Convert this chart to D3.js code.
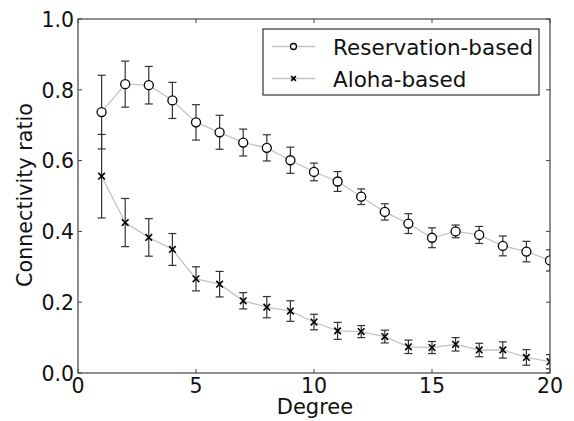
<!DOCTYPE html>
<html>
<head>
<meta charset="utf-8">
<script src="https://cdn.jsdelivr.net/npm/d3@7"></script>
<style>
  body { margin: 0; background: #fff; }
  text { font-family: "DejaVu Sans", sans-serif; fill: #111; }
</style>
</head>
<body>
<script>
const degrees = d3.range(1, 21);
const reservation = [0.737, 0.816, 0.813, 0.770, 0.708, 0.680, 0.651, 0.636, 0.601, 0.568,
                     0.541, 0.498, 0.455, 0.422, 0.382, 0.400, 0.390, 0.359, 0.343, 0.318];
const reservationErr = [0.104, 0.065, 0.053, 0.051, 0.050, 0.048, 0.038, 0.037, 0.037, 0.025,
                        0.028, 0.022, 0.023, 0.028, 0.028, 0.018, 0.024, 0.028, 0.029, 0.030];
const aloha = [0.556, 0.425, 0.383, 0.349, 0.266, 0.251, 0.204, 0.186, 0.175, 0.144,
               0.119, 0.117, 0.103, 0.074, 0.072, 0.081, 0.065, 0.065, 0.044, 0.032];
const alohaErr = [0.118, 0.068, 0.053, 0.045, 0.034, 0.036, 0.023, 0.030, 0.029, 0.022,
                  0.024, 0.017, 0.018, 0.019, 0.017, 0.019, 0.019, 0.023, 0.022, 0.020];
const xTicks = [0, 5, 10, 15, 20];
const yTicks = [0.0, 0.2, 0.4, 0.6, 0.8, 1.0];
const seriesNames = ["Reservation-based", "Aloha-based"];

const w = 574, h = 421;
const pLeft = 78, pRight = 550, pTop = 19, pBottom = 373;

const x = d3.scaleLinear().domain([0, 20]).range([pLeft, pRight]);
const y = d3.scaleLinear().domain([0, 1]).range([pBottom, pTop]);

const svg = d3.select("body").append("svg")
  .attr("width", w).attr("height", h);

svg.append("defs").append("clipPath").attr("id", "plot-clip")
  .append("rect")
  .attr("x", pLeft).attr("y", pTop)
  .attr("width", pRight - pLeft).attr("height", pBottom - pTop);

const plot = svg.append("g").attr("clip-path", "url(#plot-clip)");

const series = [
  { name: seriesNames[0], vals: reservation, errs: reservationErr, marker: "circle" },
  { name: seriesNames[1], vals: aloha, errs: alohaErr, marker: "x" }
];

// error bars
series.forEach(s => {
  const g = plot.append("g").attr("stroke", "#333").attr("stroke-width", 1.2);
  degrees.forEach((d, i) => {
    const lo = y(s.vals[i] - s.errs[i]), hi = y(s.vals[i] + s.errs[i]);
    g.append("line").attr("x1", x(d)).attr("x2", x(d)).attr("y1", lo).attr("y2", hi);
    g.append("line").attr("x1", x(d) - 4).attr("x2", x(d) + 4).attr("y1", lo).attr("y2", lo);
    g.append("line").attr("x1", x(d) - 4).attr("x2", x(d) + 4).attr("y1", hi).attr("y2", hi);
  });
});

const line = d3.line().x((d, i) => x(degrees[i])).y(d => y(d));

series.forEach(s => {
  plot.append("path")
    .datum(s.vals)
    .attr("d", line)
    .attr("fill", "none")
    .attr("stroke", "#c4c4c4")
    .attr("stroke-width", 1.3);
});

function drawMarker(g, type, cx, cy, size) {
  if (type === "circle") {
    g.append("circle").attr("cx", cx).attr("cy", cy).attr("r", size)
      .attr("fill", "#fff").attr("stroke", "#000").attr("stroke-width", 1.3);
  } else {
    g.append("path")
      .attr("d", `M${cx - size},${cy - size}L${cx + size},${cy + size}M${cx - size},${cy + size}L${cx + size},${cy - size}`)
      .attr("stroke", "#000").attr("stroke-width", 1.6);
  }
}

series.forEach(s => {
  const g = plot.append("g");
  degrees.forEach((d, i) => drawMarker(g, s.marker, x(d), y(s.vals[i]), s.marker === "circle" ? 4.5 : 3.3));
});

// frame
svg.append("rect")
  .attr("x", pLeft).attr("y", pTop)
  .attr("width", pRight - pLeft).attr("height", pBottom - pTop)
  .attr("fill", "none").attr("stroke", "#444").attr("stroke-width", 1.2);

// inward ticks on all sides
const ticks = svg.append("g").attr("stroke", "#444").attr("stroke-width", 1);
xTicks.forEach(t => {
  ticks.append("line").attr("x1", x(t)).attr("x2", x(t)).attr("y1", pBottom).attr("y2", pBottom - 4);
  ticks.append("line").attr("x1", x(t)).attr("x2", x(t)).attr("y1", pTop).attr("y2", pTop + 4);
});
yTicks.forEach(t => {
  ticks.append("line").attr("x1", pLeft).attr("x2", pLeft + 4).attr("y1", y(t)).attr("y2", y(t));
  ticks.append("line").attr("x1", pRight).attr("x2", pRight - 4).attr("y1", y(t)).attr("y2", y(t));
});

svg.selectAll(".xlab").data(xTicks).enter().append("text")
  .attr("x", d => x(d)).attr("y", pBottom + 20)
  .attr("text-anchor", "middle")
  .style("font-size", "20.5px")
  .text(d => d);

svg.selectAll(".ylab").data(yTicks).enter().append("text")
  .attr("x", pLeft - 4).attr("y", d => y(d) + 7.8)
  .attr("text-anchor", "end")
  .style("font-size", "20.5px")
  .text(d => d3.format(".1f")(d));

svg.append("text")
  .attr("x", (pLeft + pRight) / 2 + 1).attr("y", 413.5)
  .attr("text-anchor", "middle")
  .style("font-size", "21px")
  .text("Degree");

svg.append("text")
  .attr("transform", "rotate(-90)")
  .attr("x", -195).attr("y", 32)
  .attr("text-anchor", "middle")
  .style("font-size", "20.7px")
  .text("Connectivity ratio");

// legend
const legend = svg.append("g");
legend.append("rect")
  .attr("x", 263).attr("y", 29).attr("width", 276).attr("height", 66)
  .attr("fill", "#fff").attr("stroke", "#333").attr("stroke-width", 1.2);
series.forEach((s, i) => {
  const ly = 46.5 + i * 32;
  legend.append("line").attr("x1", 272).attr("x2", 315).attr("y1", ly).attr("y2", ly)
    .attr("stroke", "#c4c4c4").attr("stroke-width", 1.3);
  drawMarker(legend, s.marker, 293.5, ly, s.marker === "circle" ? 3 : 2.4);
  legend.append("text").attr("x", 333).attr("y", ly + 8)
    .style("font-size", "21.5px")
    .text(s.name);
});
</script>
</body>
</html>
